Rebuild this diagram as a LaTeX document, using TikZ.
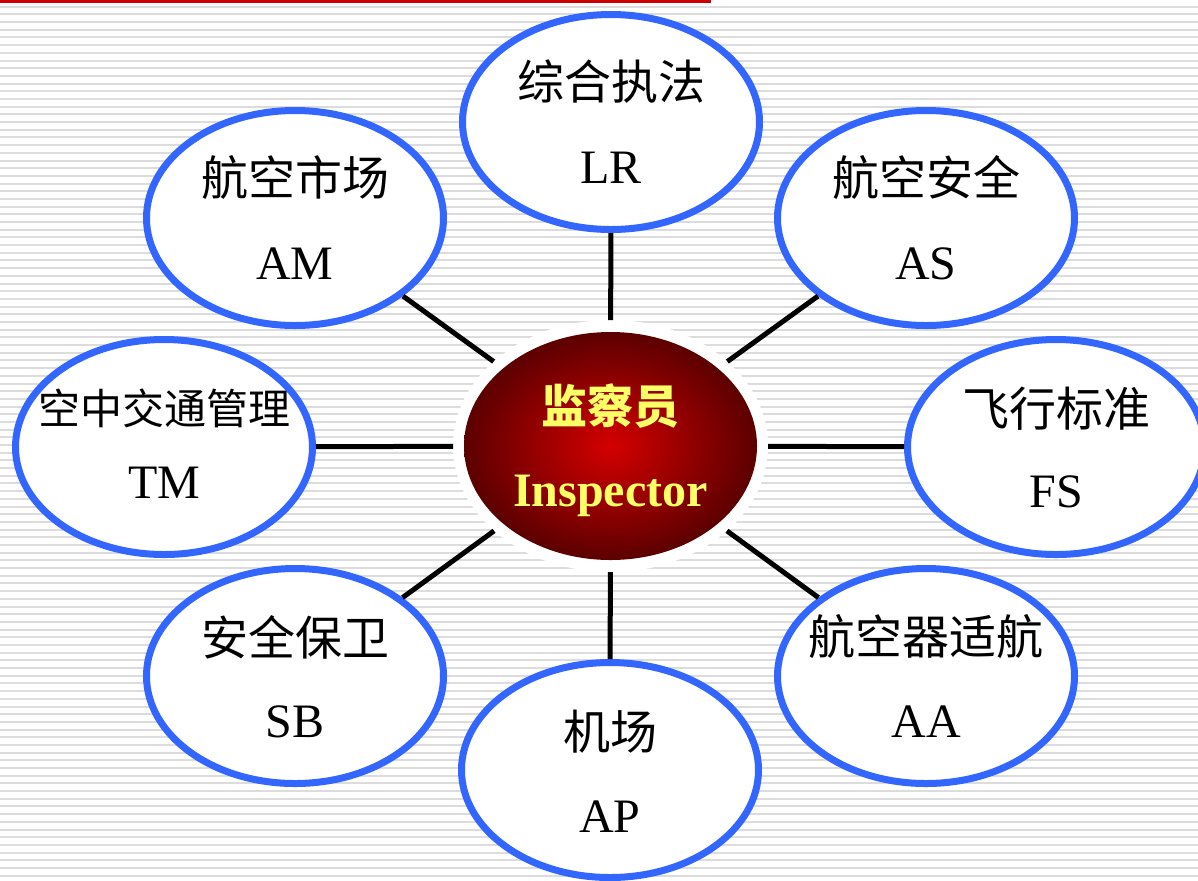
\documentclass[tikz,border=0pt]{standalone}
\usepackage{fontspec}
\setmainfont{Liberation Serif}
\newfontfamily\cjk{Noto Sans CJK SC}
\usetikzlibrary{shapes.geometric,calc}
\definecolor{bord}{RGB}{51,102,255}
\definecolor{stripec}{RGB}{220,220,220}
\definecolor{topred}{RGB}{204,0,0}
\definecolor{redin}{RGB}{212,0,0}
\definecolor{redout}{RGB}{92,0,0}
\definecolor{yel}{RGB}{255,255,102}
\begin{document}
\begin{tikzpicture}[x=0.5pt,y=-0.5pt,
  outerell/.style={ellipse,draw=bord,line width=3.5pt,fill=white,
    minimum width=148.5pt,minimum height=107.5pt,inner sep=0pt},
  halo/.style={ellipse,fill=white,minimum width=157.5pt,minimum height=126pt,inner sep=0pt,outer sep=0pt},
  core/.style={ellipse,inner color=redin,outer color=redout,minimum width=146.5pt,minimum height=114pt,inner sep=0pt},
  conn/.style={draw=black,line width=2.5pt},
  cjkt/.style={font=\cjk\fontsize{23.5pt}{28pt}\selectfont,inner sep=0pt},
  cjks/.style={font=\cjk\fontsize{21pt}{26pt}\selectfont,inner sep=0pt},
  latt/.style={font=\fontsize{24pt}{28pt}\selectfont,anchor=base,inner sep=0pt},
  ccjk/.style={font=\cjk\bfseries\fontsize{23pt}{28pt}\selectfont,text=yel,inner sep=0pt},
  clat/.style={font=\bfseries\fontsize{24pt}{28pt}\selectfont,text=yel,anchor=base,inner sep=0pt},
  stripe/.style={draw=stripec,line width=1pt}]
\useasboundingbox (0,0) rectangle (1198,880);
\fill[white] (0,0) rectangle (1198,880);
\foreach \k in {0,...,113} \draw[stripe] (0,{6.7+7.69*\k}) -- (1198,{6.7+7.69*\k});
\fill[topred] (0,0) rectangle (711,2.5);

% center
\node[halo] (C) at (610.5,446) {};
\node[core] (Core) at (610.5,446) {};
\node[ccjk] (Ct) at ($(Core)+(0,-40)$) {监察员};
\node[clat] (Cl) at ($(Core)+(0,60)$) {Inspector};

% outer ellipses
\node[outerell] (LR) at (611,122) {};
\node[outerell] (AM) at (295,218) {};
\node[outerell] (AS) at (926,218) {};
\node[outerell] (TM) at (164,447) {};
\node[outerell] (FS) at (1056,447) {};
\node[outerell] (SB) at (295,676) {};
\node[outerell] (AA) at (926,676) {};
\node[outerell] (AP) at (610,770) {};

% connectors
\foreach \n in {LR,AM,AS,TM,FS,SB,AA,AP} \draw[conn] (\n) -- (C);

% labels
\node[cjkt] (LRc) at ($(LR)+(0,-40)$) {综合执法};
\node[latt] (LRl) at ($(LR)+(0,61)$) {LR};
\node[cjkt] (AMc) at ($(AM)+(0,-40)$) {航空市场};
\node[latt] (AMl) at ($(AM)+(0,61)$) {AM};
\node[cjkt] (ASc) at ($(AS)+(0,-40)$) {航空安全};
\node[latt] (ASl) at ($(AS)+(0,61)$) {AS};
\node[cjks] (TMc) at ($(TM)+(0,-39)$) {空中交通管理};
\node[latt] (TMl) at ($(TM)+(0,51)$) {TM};
\node[cjkt] (FSc) at ($(FS)+(0,-38)$) {飞行标准};
\node[latt] (FSl) at ($(FS)+(0,60)$) {FS};
\node[cjkt] (SBc) at ($(SB)+(0,-39)$) {安全保卫};
\node[latt] (SBl) at ($(SB)+(0,61)$) {SB};
\node[cjkt] (AAc) at ($(AA)+(0,-39)$) {航空器适航};
\node[latt] (AAl) at ($(AA)+(0,61)$) {AA};
\node[cjkt] (APc) at ($(AP)+(0,-38)$) {机场};
\node[latt] (APl) at ($(AP)+(0,62)$) {AP};
\end{tikzpicture}
\end{document}
